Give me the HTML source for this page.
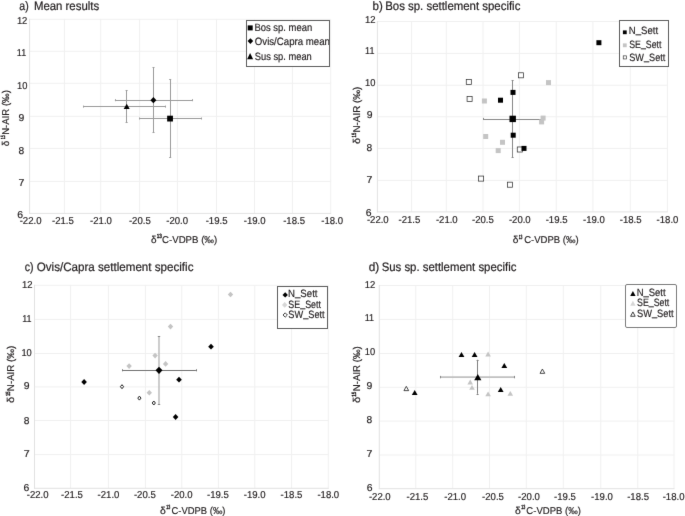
<!DOCTYPE html><html><head><meta charset="utf-8"><style>html,body{margin:0;padding:0;background:#fff;overflow:hidden;}svg{display:block;}text{font-family:"Liberation Sans", sans-serif;text-rendering:geometricPrecision;fill:#231f20;stroke:#231f20;stroke-width:0.18px;}.sup{stroke-width:0.45px;}.tk{stroke-width:0.18px;}.ti{stroke-width:0.22px;}</style></head><body>
<svg width="685" height="516" viewBox="0 0 685 516">
<defs><filter id="bl" x="0" y="0" width="1" height="1" color-interpolation-filters="sRGB"><feConvolveMatrix order="3" kernelMatrix="0.00524 0.06192 0.00524 0.06192 0.73137 0.06192 0.00524 0.06192 0.00524" edgeMode="duplicate"/></filter></defs>
<g filter="url(#bl)">
<rect width="685" height="516" fill="#fff"/>
<line x1="64.40" y1="19.30" x2="64.40" y2="213.40" stroke="#f0f0f0" stroke-width="1"/>
<line x1="100.70" y1="19.30" x2="100.70" y2="213.40" stroke="#f0f0f0" stroke-width="1"/>
<line x1="139.60" y1="19.30" x2="139.60" y2="213.40" stroke="#f0f0f0" stroke-width="1"/>
<line x1="177.40" y1="19.30" x2="177.40" y2="213.40" stroke="#f0f0f0" stroke-width="1"/>
<line x1="216.50" y1="19.30" x2="216.50" y2="213.40" stroke="#f0f0f0" stroke-width="1"/>
<line x1="254.50" y1="19.30" x2="254.50" y2="213.40" stroke="#f0f0f0" stroke-width="1"/>
<line x1="292.40" y1="19.30" x2="292.40" y2="213.40" stroke="#f0f0f0" stroke-width="1"/>
<line x1="330.70" y1="19.30" x2="330.70" y2="213.40" stroke="#f0f0f0" stroke-width="1"/>
<line x1="29.60" y1="19.30" x2="330.70" y2="19.30" stroke="#f0f0f0" stroke-width="1"/>
<line x1="29.60" y1="51.30" x2="330.70" y2="51.30" stroke="#f0f0f0" stroke-width="1"/>
<line x1="29.60" y1="83.30" x2="330.70" y2="83.30" stroke="#f0f0f0" stroke-width="1"/>
<line x1="29.60" y1="116.35" x2="330.70" y2="116.35" stroke="#f0f0f0" stroke-width="1"/>
<line x1="29.60" y1="148.40" x2="330.70" y2="148.40" stroke="#f0f0f0" stroke-width="1"/>
<line x1="29.60" y1="181.40" x2="330.70" y2="181.40" stroke="#f0f0f0" stroke-width="1"/>
<line x1="29.60" y1="18.80" x2="29.60" y2="213.90" stroke="#e2e2e2" stroke-width="1"/>
<line x1="29.10" y1="213.40" x2="331.20" y2="213.40" stroke="#e2e2e2" stroke-width="1"/>
<text x="16.88" y="23.95" font-size="10.0" textLength="10.49" lengthAdjust="spacingAndGlyphs" class="tk">12</text>
<text x="16.82" y="56.05" font-size="10.0" textLength="9.32" lengthAdjust="spacingAndGlyphs" class="tk">11</text>
<text x="16.99" y="88.50" font-size="10.0" textLength="10.38" lengthAdjust="spacingAndGlyphs" class="tk">10</text>
<text x="18.61" y="120.90" font-size="10.0" textLength="5.78" lengthAdjust="spacingAndGlyphs" class="tk">9</text>
<text x="18.56" y="153.50" font-size="10.0" textLength="5.68" lengthAdjust="spacingAndGlyphs" class="tk">8</text>
<text x="18.61" y="186.00" font-size="10.0" textLength="5.87" lengthAdjust="spacingAndGlyphs" class="tk">7</text>
<text x="17.32" y="217.60" font-size="10.0" textLength="5.79" lengthAdjust="spacingAndGlyphs" class="tk">6</text>
<text x="19.68" y="223.50" font-size="10.0" textLength="21.80" lengthAdjust="spacingAndGlyphs" class="tk">-22.0</text>
<text x="51.98" y="223.50" font-size="10.0" textLength="21.83" lengthAdjust="spacingAndGlyphs" class="tk">-21.5</text>
<text x="90.08" y="223.50" font-size="10.0" textLength="21.80" lengthAdjust="spacingAndGlyphs" class="tk">-21.0</text>
<text x="128.88" y="223.50" font-size="10.0" textLength="21.83" lengthAdjust="spacingAndGlyphs" class="tk">-20.5</text>
<text x="166.28" y="223.50" font-size="10.0" textLength="21.80" lengthAdjust="spacingAndGlyphs" class="tk">-20.0</text>
<text x="205.68" y="223.50" font-size="10.0" textLength="21.83" lengthAdjust="spacingAndGlyphs" class="tk">-19.5</text>
<text x="243.78" y="223.50" font-size="10.0" textLength="21.80" lengthAdjust="spacingAndGlyphs" class="tk">-19.0</text>
<text x="283.18" y="223.50" font-size="10.0" textLength="21.83" lengthAdjust="spacingAndGlyphs" class="tk">-18.5</text>
<text x="321.28" y="223.50" font-size="10.0" textLength="21.80" lengthAdjust="spacingAndGlyphs" class="tk">-18.0</text>
<text x="19.31" y="9.60" font-size="12.2" textLength="9.40" lengthAdjust="spacingAndGlyphs" class="ti">a)</text>
<text x="33.92" y="9.60" font-size="12.2" textLength="65.24" lengthAdjust="spacingAndGlyphs" class="ti">Mean results</text>
<text x="151.03" y="242.80" font-size="9.9" textLength="5.54" lengthAdjust="spacingAndGlyphs">&#948;</text>
<text x="156.75" y="238.40" font-size="6.0" textLength="5.16" lengthAdjust="spacingAndGlyphs" class="sup">13</text>
<text x="162.06" y="242.80" font-size="9.9" textLength="55.19" lengthAdjust="spacingAndGlyphs">C-VDPB (&#8240;)</text>
<g transform="rotate(-90)">
<text x="-146.17" y="9.30" font-size="9.9" textLength="5.54" lengthAdjust="spacingAndGlyphs">&#948;</text>
<text x="-139.18" y="5.10" font-size="6.0" textLength="4.03" lengthAdjust="spacingAndGlyphs" class="sup">15</text>
<text x="-134.84" y="9.30" font-size="9.9" textLength="44.68" lengthAdjust="spacingAndGlyphs">N-AIR (&#8240;)</text>
</g>
<line x1="411.60" y1="21.46" x2="411.60" y2="211.90" stroke="#f0f0f0" stroke-width="1"/>
<line x1="446.30" y1="21.46" x2="446.30" y2="211.90" stroke="#f0f0f0" stroke-width="1"/>
<line x1="483.00" y1="21.46" x2="483.00" y2="211.90" stroke="#f0f0f0" stroke-width="1"/>
<line x1="519.40" y1="21.46" x2="519.40" y2="211.90" stroke="#f0f0f0" stroke-width="1"/>
<line x1="556.20" y1="21.46" x2="556.20" y2="211.90" stroke="#f0f0f0" stroke-width="1"/>
<line x1="592.90" y1="21.46" x2="592.90" y2="211.90" stroke="#f0f0f0" stroke-width="1"/>
<line x1="630.30" y1="21.46" x2="630.30" y2="211.90" stroke="#f0f0f0" stroke-width="1"/>
<line x1="667.40" y1="21.46" x2="667.40" y2="211.90" stroke="#f0f0f0" stroke-width="1"/>
<line x1="377.40" y1="21.46" x2="667.40" y2="21.46" stroke="#f0f0f0" stroke-width="1"/>
<line x1="377.40" y1="53.40" x2="667.40" y2="53.40" stroke="#f0f0f0" stroke-width="1"/>
<line x1="377.40" y1="85.20" x2="667.40" y2="85.20" stroke="#f0f0f0" stroke-width="1"/>
<line x1="377.40" y1="116.80" x2="667.40" y2="116.80" stroke="#f0f0f0" stroke-width="1"/>
<line x1="377.40" y1="148.40" x2="667.40" y2="148.40" stroke="#f0f0f0" stroke-width="1"/>
<line x1="377.40" y1="180.40" x2="667.40" y2="180.40" stroke="#f0f0f0" stroke-width="1"/>
<line x1="377.40" y1="20.96" x2="377.40" y2="212.40" stroke="#e2e2e2" stroke-width="1"/>
<line x1="376.90" y1="211.90" x2="667.90" y2="211.90" stroke="#e2e2e2" stroke-width="1"/>
<text x="365.08" y="23.00" font-size="10.0" textLength="10.49" lengthAdjust="spacingAndGlyphs" class="tk">12</text>
<text x="365.12" y="54.30" font-size="10.0" textLength="9.32" lengthAdjust="spacingAndGlyphs" class="tk">11</text>
<text x="365.09" y="86.35" font-size="10.0" textLength="10.38" lengthAdjust="spacingAndGlyphs" class="tk">10</text>
<text x="366.86" y="118.30" font-size="10.0" textLength="5.78" lengthAdjust="spacingAndGlyphs" class="tk">9</text>
<text x="366.56" y="150.50" font-size="10.0" textLength="5.68" lengthAdjust="spacingAndGlyphs" class="tk">8</text>
<text x="366.46" y="182.60" font-size="10.0" textLength="5.87" lengthAdjust="spacingAndGlyphs" class="tk">7</text>
<text x="365.87" y="215.70" font-size="10.0" textLength="5.79" lengthAdjust="spacingAndGlyphs" class="tk">6</text>
<text x="366.88" y="222.50" font-size="10.0" textLength="21.80" lengthAdjust="spacingAndGlyphs" class="tk">-22.0</text>
<text x="398.48" y="222.50" font-size="10.0" textLength="21.83" lengthAdjust="spacingAndGlyphs" class="tk">-21.5</text>
<text x="435.88" y="222.50" font-size="10.0" textLength="21.80" lengthAdjust="spacingAndGlyphs" class="tk">-21.0</text>
<text x="471.98" y="222.50" font-size="10.0" textLength="21.83" lengthAdjust="spacingAndGlyphs" class="tk">-20.5</text>
<text x="508.88" y="222.50" font-size="10.0" textLength="21.80" lengthAdjust="spacingAndGlyphs" class="tk">-20.0</text>
<text x="545.68" y="222.50" font-size="10.0" textLength="21.83" lengthAdjust="spacingAndGlyphs" class="tk">-19.5</text>
<text x="582.98" y="222.50" font-size="10.0" textLength="21.80" lengthAdjust="spacingAndGlyphs" class="tk">-19.0</text>
<text x="619.78" y="222.50" font-size="10.0" textLength="21.83" lengthAdjust="spacingAndGlyphs" class="tk">-18.5</text>
<text x="656.58" y="222.50" font-size="10.0" textLength="21.80" lengthAdjust="spacingAndGlyphs" class="tk">-18.0</text>
<text x="372.50" y="9.60" font-size="12.2" textLength="10.27" lengthAdjust="spacingAndGlyphs" class="ti">b)</text>
<text x="385.21" y="9.60" font-size="12.2" textLength="135.14" lengthAdjust="spacingAndGlyphs" class="ti">Bos sp. settlement specific</text>
<text x="512.72" y="243.00" font-size="9.9" textLength="5.66" lengthAdjust="spacingAndGlyphs">&#948;</text>
<text x="518.75" y="238.60" font-size="6.0" textLength="3.70" lengthAdjust="spacingAndGlyphs" class="sup">13</text>
<text x="524.16" y="243.00" font-size="9.9" textLength="54.48" lengthAdjust="spacingAndGlyphs">C-VDPB (&#8240;)</text>
<g transform="rotate(-90)">
<text x="-144.10" y="360.20" font-size="9.9" textLength="6.01" lengthAdjust="spacingAndGlyphs">&#948;</text>
<text x="-137.41" y="356.00" font-size="6.0" textLength="4.59" lengthAdjust="spacingAndGlyphs" class="sup">15</text>
<text x="-132.56" y="360.20" font-size="9.9" textLength="45.92" lengthAdjust="spacingAndGlyphs">N-AIR (&#8240;)</text>
</g>
<line x1="70.60" y1="285.30" x2="70.60" y2="488.30" stroke="#f0f0f0" stroke-width="1"/>
<line x1="108.40" y1="285.30" x2="108.40" y2="488.30" stroke="#f0f0f0" stroke-width="1"/>
<line x1="145.40" y1="285.30" x2="145.40" y2="488.30" stroke="#f0f0f0" stroke-width="1"/>
<line x1="181.80" y1="285.30" x2="181.80" y2="488.30" stroke="#f0f0f0" stroke-width="1"/>
<line x1="218.40" y1="285.30" x2="218.40" y2="488.30" stroke="#f0f0f0" stroke-width="1"/>
<line x1="254.80" y1="285.30" x2="254.80" y2="488.30" stroke="#f0f0f0" stroke-width="1"/>
<line x1="291.60" y1="285.30" x2="291.60" y2="488.30" stroke="#f0f0f0" stroke-width="1"/>
<line x1="328.30" y1="285.30" x2="328.30" y2="488.30" stroke="#f0f0f0" stroke-width="1"/>
<line x1="34.50" y1="285.30" x2="328.30" y2="285.30" stroke="#f0f0f0" stroke-width="1"/>
<line x1="34.50" y1="319.40" x2="328.30" y2="319.40" stroke="#f0f0f0" stroke-width="1"/>
<line x1="34.50" y1="353.50" x2="328.30" y2="353.50" stroke="#f0f0f0" stroke-width="1"/>
<line x1="34.50" y1="386.90" x2="328.30" y2="386.90" stroke="#f0f0f0" stroke-width="1"/>
<line x1="34.50" y1="420.50" x2="328.30" y2="420.50" stroke="#f0f0f0" stroke-width="1"/>
<line x1="34.50" y1="454.60" x2="328.30" y2="454.60" stroke="#f0f0f0" stroke-width="1"/>
<line x1="34.50" y1="284.80" x2="34.50" y2="488.80" stroke="#e2e2e2" stroke-width="1"/>
<line x1="34.00" y1="488.30" x2="328.80" y2="488.30" stroke="#e2e2e2" stroke-width="1"/>
<text x="22.03" y="288.10" font-size="10.0" textLength="10.49" lengthAdjust="spacingAndGlyphs" class="tk">12</text>
<text x="22.22" y="322.00" font-size="10.0" textLength="9.32" lengthAdjust="spacingAndGlyphs" class="tk">11</text>
<text x="21.39" y="356.10" font-size="10.0" textLength="10.38" lengthAdjust="spacingAndGlyphs" class="tk">10</text>
<text x="23.81" y="389.25" font-size="10.0" textLength="5.78" lengthAdjust="spacingAndGlyphs" class="tk">9</text>
<text x="23.86" y="423.60" font-size="10.0" textLength="5.68" lengthAdjust="spacingAndGlyphs" class="tk">8</text>
<text x="23.76" y="456.95" font-size="10.0" textLength="5.87" lengthAdjust="spacingAndGlyphs" class="tk">7</text>
<text x="23.42" y="491.10" font-size="10.0" textLength="5.79" lengthAdjust="spacingAndGlyphs" class="tk">6</text>
<text x="26.78" y="497.70" font-size="10.0" textLength="21.80" lengthAdjust="spacingAndGlyphs" class="tk">-22.0</text>
<text x="61.08" y="497.70" font-size="10.0" textLength="21.83" lengthAdjust="spacingAndGlyphs" class="tk">-21.5</text>
<text x="97.58" y="497.70" font-size="10.0" textLength="21.80" lengthAdjust="spacingAndGlyphs" class="tk">-21.0</text>
<text x="133.88" y="497.70" font-size="10.0" textLength="21.83" lengthAdjust="spacingAndGlyphs" class="tk">-20.5</text>
<text x="170.78" y="497.70" font-size="10.0" textLength="21.80" lengthAdjust="spacingAndGlyphs" class="tk">-20.0</text>
<text x="206.98" y="497.70" font-size="10.0" textLength="21.83" lengthAdjust="spacingAndGlyphs" class="tk">-19.5</text>
<text x="243.78" y="497.70" font-size="10.0" textLength="21.80" lengthAdjust="spacingAndGlyphs" class="tk">-19.0</text>
<text x="280.58" y="497.70" font-size="10.0" textLength="21.83" lengthAdjust="spacingAndGlyphs" class="tk">-18.5</text>
<text x="317.38" y="497.70" font-size="10.0" textLength="21.80" lengthAdjust="spacingAndGlyphs" class="tk">-18.0</text>
<text x="24.81" y="271.30" font-size="12.2" textLength="8.80" lengthAdjust="spacingAndGlyphs" class="ti">c)</text>
<text x="36.80" y="271.30" font-size="12.2" textLength="156.65" lengthAdjust="spacingAndGlyphs" class="ti">Ovis/Capra settlement specific</text>
<text x="159.91" y="513.80" font-size="9.9" textLength="5.78" lengthAdjust="spacingAndGlyphs">&#948;</text>
<text x="166.22" y="509.40" font-size="6.0" textLength="4.04" lengthAdjust="spacingAndGlyphs" class="sup">13</text>
<text x="171.57" y="513.80" font-size="9.9" textLength="53.87" lengthAdjust="spacingAndGlyphs">C-VDPB (&#8240;)</text>
<g transform="rotate(-90)">
<text x="-403.12" y="13.90" font-size="9.9" textLength="6.25" lengthAdjust="spacingAndGlyphs">&#948;</text>
<text x="-396.01" y="9.70" font-size="6.0" textLength="4.48" lengthAdjust="spacingAndGlyphs" class="sup">15</text>
<text x="-391.15" y="13.90" font-size="9.9" textLength="45.40" lengthAdjust="spacingAndGlyphs">N-AIR (&#8240;)</text>
</g>
<line x1="415.80" y1="285.50" x2="415.80" y2="488.70" stroke="#f0f0f0" stroke-width="1"/>
<line x1="452.70" y1="285.50" x2="452.70" y2="488.70" stroke="#f0f0f0" stroke-width="1"/>
<line x1="489.50" y1="285.50" x2="489.50" y2="488.70" stroke="#f0f0f0" stroke-width="1"/>
<line x1="526.30" y1="285.50" x2="526.30" y2="488.70" stroke="#f0f0f0" stroke-width="1"/>
<line x1="563.30" y1="285.50" x2="563.30" y2="488.70" stroke="#f0f0f0" stroke-width="1"/>
<line x1="600.80" y1="285.50" x2="600.80" y2="488.70" stroke="#f0f0f0" stroke-width="1"/>
<line x1="637.80" y1="285.50" x2="637.80" y2="488.70" stroke="#f0f0f0" stroke-width="1"/>
<line x1="674.00" y1="285.50" x2="674.00" y2="488.70" stroke="#f0f0f0" stroke-width="1"/>
<line x1="379.30" y1="285.50" x2="674.00" y2="285.50" stroke="#f0f0f0" stroke-width="1"/>
<line x1="379.30" y1="319.40" x2="674.00" y2="319.40" stroke="#f0f0f0" stroke-width="1"/>
<line x1="379.30" y1="353.50" x2="674.00" y2="353.50" stroke="#f0f0f0" stroke-width="1"/>
<line x1="379.30" y1="387.30" x2="674.00" y2="387.30" stroke="#f0f0f0" stroke-width="1"/>
<line x1="379.30" y1="421.10" x2="674.00" y2="421.10" stroke="#f0f0f0" stroke-width="1"/>
<line x1="379.30" y1="455.00" x2="674.00" y2="455.00" stroke="#f0f0f0" stroke-width="1"/>
<line x1="379.30" y1="285.00" x2="379.30" y2="489.20" stroke="#e2e2e2" stroke-width="1"/>
<line x1="378.80" y1="488.70" x2="674.50" y2="488.70" stroke="#e2e2e2" stroke-width="1"/>
<text x="364.73" y="288.20" font-size="10.0" textLength="10.49" lengthAdjust="spacingAndGlyphs" class="tk">12</text>
<text x="364.67" y="320.85" font-size="10.0" textLength="9.32" lengthAdjust="spacingAndGlyphs" class="tk">11</text>
<text x="364.84" y="354.90" font-size="10.0" textLength="10.38" lengthAdjust="spacingAndGlyphs" class="tk">10</text>
<text x="366.46" y="389.15" font-size="10.0" textLength="5.78" lengthAdjust="spacingAndGlyphs" class="tk">9</text>
<text x="366.56" y="422.75" font-size="10.0" textLength="5.68" lengthAdjust="spacingAndGlyphs" class="tk">8</text>
<text x="366.51" y="456.55" font-size="10.0" textLength="5.87" lengthAdjust="spacingAndGlyphs" class="tk">7</text>
<text x="366.72" y="491.30" font-size="10.0" textLength="5.79" lengthAdjust="spacingAndGlyphs" class="tk">6</text>
<text x="368.88" y="499.90" font-size="10.0" textLength="21.80" lengthAdjust="spacingAndGlyphs" class="tk">-22.0</text>
<text x="406.48" y="499.90" font-size="10.0" textLength="21.83" lengthAdjust="spacingAndGlyphs" class="tk">-21.5</text>
<text x="444.28" y="499.90" font-size="10.0" textLength="21.80" lengthAdjust="spacingAndGlyphs" class="tk">-21.0</text>
<text x="482.08" y="499.90" font-size="10.0" textLength="21.83" lengthAdjust="spacingAndGlyphs" class="tk">-20.5</text>
<text x="518.08" y="499.90" font-size="10.0" textLength="21.80" lengthAdjust="spacingAndGlyphs" class="tk">-20.0</text>
<text x="554.08" y="499.90" font-size="10.0" textLength="21.83" lengthAdjust="spacingAndGlyphs" class="tk">-19.5</text>
<text x="591.08" y="499.90" font-size="10.0" textLength="21.80" lengthAdjust="spacingAndGlyphs" class="tk">-19.0</text>
<text x="627.18" y="499.90" font-size="10.0" textLength="21.83" lengthAdjust="spacingAndGlyphs" class="tk">-18.5</text>
<text x="662.68" y="499.90" font-size="10.0" textLength="21.80" lengthAdjust="spacingAndGlyphs" class="tk">-18.0</text>
<text x="368.75" y="271.30" font-size="12.2" textLength="10.53" lengthAdjust="spacingAndGlyphs" class="ti">d)</text>
<text x="381.63" y="271.30" font-size="12.2" textLength="134.72" lengthAdjust="spacingAndGlyphs" class="ti">Sus sp. settlement specific</text>
<text x="514.91" y="513.80" font-size="9.9" textLength="5.78" lengthAdjust="spacingAndGlyphs">&#948;</text>
<text x="521.22" y="509.40" font-size="6.0" textLength="4.04" lengthAdjust="spacingAndGlyphs" class="sup">13</text>
<text x="526.36" y="513.80" font-size="9.9" textLength="54.48" lengthAdjust="spacingAndGlyphs">C-VDPB (&#8240;)</text>
<g transform="rotate(-90)">
<text x="-403.12" y="360.20" font-size="9.9" textLength="6.25" lengthAdjust="spacingAndGlyphs">&#948;</text>
<text x="-396.74" y="356.00" font-size="6.0" textLength="4.92" lengthAdjust="spacingAndGlyphs" class="sup">15</text>
<text x="-391.14" y="360.20" font-size="9.9" textLength="44.89" lengthAdjust="spacingAndGlyphs">N-AIR (&#8240;)</text>
</g>
<line x1="126.50" y1="90.20" x2="126.50" y2="122.50" stroke="#9a9a9a" stroke-width="1"/>
<line x1="125.60" y1="90.50" x2="127.60" y2="90.50" stroke="#9a9a9a" stroke-width="1"/>
<line x1="125.60" y1="122.50" x2="127.60" y2="122.50" stroke="#9a9a9a" stroke-width="1"/>
<line x1="83.20" y1="106.50" x2="165.30" y2="106.50" stroke="#9a9a9a" stroke-width="1"/>
<line x1="83.50" y1="105.60" x2="83.50" y2="107.60" stroke="#9a9a9a" stroke-width="1"/>
<line x1="165.50" y1="105.60" x2="165.50" y2="107.60" stroke="#9a9a9a" stroke-width="1"/>
<line x1="153.50" y1="67.60" x2="153.50" y2="132.30" stroke="#9a9a9a" stroke-width="1"/>
<line x1="152.50" y1="67.50" x2="154.50" y2="67.50" stroke="#9a9a9a" stroke-width="1"/>
<line x1="152.50" y1="132.50" x2="154.50" y2="132.50" stroke="#9a9a9a" stroke-width="1"/>
<line x1="114.90" y1="100.50" x2="192.50" y2="100.50" stroke="#9a9a9a" stroke-width="1"/>
<line x1="115.50" y1="99.20" x2="115.50" y2="101.20" stroke="#9a9a9a" stroke-width="1"/>
<line x1="192.50" y1="99.20" x2="192.50" y2="101.20" stroke="#9a9a9a" stroke-width="1"/>
<line x1="170.50" y1="79.40" x2="170.50" y2="157.50" stroke="#9a9a9a" stroke-width="1"/>
<line x1="169.20" y1="79.50" x2="171.20" y2="79.50" stroke="#9a9a9a" stroke-width="1"/>
<line x1="169.20" y1="157.50" x2="171.20" y2="157.50" stroke="#9a9a9a" stroke-width="1"/>
<line x1="139.40" y1="118.50" x2="201.30" y2="118.50" stroke="#9a9a9a" stroke-width="1"/>
<line x1="139.50" y1="117.50" x2="139.50" y2="119.50" stroke="#9a9a9a" stroke-width="1"/>
<line x1="201.50" y1="117.50" x2="201.50" y2="119.50" stroke="#9a9a9a" stroke-width="1"/>
<polygon points="126.70,103.80 129.70,109.00 123.70,109.00" fill="#000"/>
<polygon points="153.40,97.10 156.40,100.20 153.40,103.30 150.40,100.20" fill="#000"/>
<rect x="167.15" y="115.70" width="5.80" height="5.80" fill="#000"/>
<rect x="246.5" y="20.5" width="83" height="46" fill="#fff" stroke="#5e5e5e" stroke-width="1"/>
<clipPath id="cA"><rect x="247" y="21" width="82" height="45"/></clipPath>
<g clip-path="url(#cA)">
<rect x="247.70" y="25.40" width="5.00" height="5.00" fill="#000"/>
<polygon points="250.40,38.30 253.20,41.10 250.40,43.90 247.60,41.10" fill="#000"/>
<polygon points="250.10,52.90 253.10,59.30 247.10,59.30" fill="#000"/>
<text x="254.48" y="30.70" font-size="10.6" textLength="57.69" lengthAdjust="spacingAndGlyphs">Bos sp. mean</text>
<text x="254.80" y="45.20" font-size="10.6" textLength="75.18" lengthAdjust="spacingAndGlyphs">Ovis/Capra mean</text>
<text x="254.82" y="59.50" font-size="10.6" textLength="56.94" lengthAdjust="spacingAndGlyphs">Sus sp. mean</text>
</g>
<line x1="512.50" y1="80.60" x2="512.50" y2="157.20" stroke="#888" stroke-width="1"/>
<line x1="511.60" y1="80.50" x2="513.60" y2="80.50" stroke="#888" stroke-width="1"/>
<line x1="511.60" y1="157.50" x2="513.60" y2="157.50" stroke="#888" stroke-width="1"/>
<line x1="483.00" y1="119.50" x2="541.50" y2="119.50" stroke="#888" stroke-width="1"/>
<line x1="483.50" y1="117.90" x2="483.50" y2="119.90" stroke="#888" stroke-width="1"/>
<line x1="541.50" y1="117.90" x2="541.50" y2="119.90" stroke="#888" stroke-width="1"/>
<rect x="481.90" y="98.50" width="5.00" height="5.00" fill="#c4c4c4"/>
<rect x="546.00" y="80.10" width="5.00" height="5.00" fill="#c4c4c4"/>
<rect x="540.60" y="115.60" width="5.00" height="5.00" fill="#c4c4c4"/>
<rect x="539.10" y="119.40" width="5.00" height="5.00" fill="#c4c4c4"/>
<rect x="483.20" y="134.00" width="5.00" height="5.00" fill="#c4c4c4"/>
<rect x="500.00" y="139.80" width="5.00" height="5.00" fill="#c4c4c4"/>
<rect x="495.70" y="148.10" width="5.00" height="5.00" fill="#c4c4c4"/>
<rect x="466.28" y="79.38" width="5.05" height="5.05" fill="#fff" stroke="#333" stroke-width="0.75"/>
<rect x="467.08" y="96.47" width="5.05" height="5.05" fill="#fff" stroke="#333" stroke-width="0.75"/>
<rect x="518.38" y="72.77" width="5.05" height="5.05" fill="#fff" stroke="#333" stroke-width="0.75"/>
<rect x="517.27" y="146.97" width="5.05" height="5.05" fill="#fff" stroke="#333" stroke-width="0.75"/>
<rect x="478.58" y="176.07" width="5.05" height="5.05" fill="#fff" stroke="#333" stroke-width="0.75"/>
<rect x="507.38" y="182.17" width="5.05" height="5.05" fill="#fff" stroke="#333" stroke-width="0.75"/>
<rect x="596.40" y="40.20" width="5.00" height="5.00" fill="#000"/>
<rect x="498.00" y="97.70" width="5.00" height="5.00" fill="#000"/>
<rect x="510.50" y="89.90" width="5.00" height="5.00" fill="#000"/>
<rect x="510.70" y="132.70" width="5.00" height="5.00" fill="#000"/>
<rect x="521.50" y="145.90" width="5.00" height="5.00" fill="#000"/>
<rect x="509.50" y="115.70" width="6.40" height="6.40" fill="#000"/>
<rect x="619.5" y="20.5" width="49" height="46" fill="#fff" stroke="#5e5e5e" stroke-width="1"/>
<rect x="622.90" y="30.40" width="3.80" height="3.80" fill="#000"/>
<rect x="622.90" y="43.40" width="3.80" height="3.80" fill="#c4c4c4"/>
<rect x="623.25" y="55.85" width="3.10" height="3.10" fill="#fff" stroke="#3a3a3a" stroke-width="0.7"/>
<text x="628.87" y="34.40" font-size="10.6" textLength="29.25" lengthAdjust="spacingAndGlyphs">N<tspan dy="-1.0">_</tspan><tspan dy="1.0">Sett</tspan></text>
<text x="629.25" y="47.60" font-size="10.6" textLength="32.16" lengthAdjust="spacingAndGlyphs">SE<tspan dy="-1.0">_</tspan><tspan dy="1.0">Sett</tspan></text>
<text x="629.23" y="60.70" font-size="10.6" textLength="36.08" lengthAdjust="spacingAndGlyphs">SW<tspan dy="-1.0">_</tspan><tspan dy="1.0">Sett</tspan></text>
<line x1="122.50" y1="370.50" x2="195.90" y2="370.50" stroke="#727272" stroke-width="1"/>
<line x1="122.50" y1="369.30" x2="122.50" y2="371.30" stroke="#727272" stroke-width="1"/>
<line x1="196.50" y1="369.30" x2="196.50" y2="371.30" stroke="#727272" stroke-width="1"/>
<line x1="159.00" y1="336.30" x2="159.00" y2="404.20" stroke="#c0c0c0" stroke-width="1.6"/>
<line x1="157.80" y1="336.50" x2="160.20" y2="336.50" stroke="#888" stroke-width="1"/>
<line x1="157.80" y1="404.50" x2="160.20" y2="404.50" stroke="#888" stroke-width="1"/>
<polygon points="129.10,363.30 131.80,366.10 129.10,368.90 126.40,366.10" fill="#c4c4c4"/>
<polygon points="155.10,352.80 157.80,355.60 155.10,358.40 152.40,355.60" fill="#c4c4c4"/>
<polygon points="165.60,361.10 168.30,363.90 165.60,366.70 162.90,363.90" fill="#c4c4c4"/>
<polygon points="149.30,389.90 152.00,392.70 149.30,395.50 146.60,392.70" fill="#c4c4c4"/>
<polygon points="170.50,323.80 173.20,326.60 170.50,329.40 167.80,326.60" fill="#c4c4c4"/>
<polygon points="230.50,291.70 233.20,294.50 230.50,297.30 227.80,294.50" fill="#c4c4c4"/>
<polygon points="122.00,384.70 123.60,386.70 122.00,388.70 120.40,386.70" fill="#fff" stroke="#1e1e1e" stroke-width="1.0"/>
<polygon points="139.40,396.10 141.00,398.10 139.40,400.10 137.80,398.10" fill="#fff" stroke="#1e1e1e" stroke-width="1.0"/>
<polygon points="153.80,401.00 155.40,403.00 153.80,405.00 152.20,403.00" fill="#fff" stroke="#1e1e1e" stroke-width="1.0"/>
<polygon points="84.10,379.10 86.90,382.00 84.10,384.90 81.30,382.00" fill="#000"/>
<polygon points="179.00,376.80 181.80,379.70 179.00,382.60 176.20,379.70" fill="#000"/>
<polygon points="211.00,343.80 213.80,346.70 211.00,349.60 208.20,346.70" fill="#000"/>
<polygon points="175.60,414.10 178.40,417.00 175.60,419.90 172.80,417.00" fill="#000"/>
<polygon points="159.00,366.70 162.50,370.30 159.00,373.90 155.50,370.30" fill="#000"/>
<rect x="277.5" y="286.5" width="50" height="42" fill="#fff" stroke="#5e5e5e" stroke-width="1"/>
<polygon points="285.20,292.20 287.90,294.90 285.20,297.60 282.50,294.90" fill="#000"/>
<polygon points="284.70,302.10 287.40,304.90 284.70,307.70 282.00,304.90" fill="#d6d6d6"/>
<polygon points="285.20,312.83 287.37,315.00 285.20,317.17 283.03,315.00" fill="#fff" stroke="#2a2a2a" stroke-width="0.9"/>
<text x="287.96" y="297.00" font-size="10.6" textLength="29.56" lengthAdjust="spacingAndGlyphs">N<tspan dy="-1.0">_</tspan><tspan dy="1.0">Sett</tspan></text>
<text x="288.34" y="307.90" font-size="10.6" textLength="32.67" lengthAdjust="spacingAndGlyphs">SE<tspan dy="-1.0">_</tspan><tspan dy="1.0">Sett</tspan></text>
<text x="288.33" y="318.10" font-size="10.6" textLength="36.29" lengthAdjust="spacingAndGlyphs">SW<tspan dy="-1.0">_</tspan><tspan dy="1.0">Sett</tspan></text>
<line x1="440.40" y1="377.10" x2="514.30" y2="377.10" stroke="#c0c0c0" stroke-width="1.6"/>
<line x1="440.50" y1="375.90" x2="440.50" y2="378.30" stroke="#888" stroke-width="1"/>
<line x1="514.50" y1="375.90" x2="514.50" y2="378.30" stroke="#888" stroke-width="1"/>
<line x1="477.50" y1="359.80" x2="477.50" y2="393.80" stroke="#808080" stroke-width="1"/>
<line x1="476.60" y1="360.50" x2="478.60" y2="360.50" stroke="#808080" stroke-width="1"/>
<line x1="476.60" y1="394.50" x2="478.60" y2="394.50" stroke="#808080" stroke-width="1"/>
<polygon points="488.10,351.60 490.90,356.40 485.30,356.40" fill="#c4c4c4"/>
<polygon points="470.20,379.60 473.00,384.40 467.40,384.40" fill="#c4c4c4"/>
<polygon points="472.00,384.90 474.80,389.70 469.20,389.70" fill="#c4c4c4"/>
<polygon points="488.10,391.40 490.90,396.20 485.30,396.20" fill="#c4c4c4"/>
<polygon points="510.30,391.00 513.10,395.80 507.50,395.80" fill="#c4c4c4"/>
<polygon points="406.30,386.36 408.66,390.64 403.94,390.64" fill="#fff" stroke="#1e1e1e" stroke-width="0.8" stroke-linejoin="miter"/>
<polygon points="542.40,369.06 544.76,373.34 540.04,373.34" fill="#fff" stroke="#1e1e1e" stroke-width="0.8" stroke-linejoin="miter"/>
<polygon points="414.70,390.10 417.60,395.10 411.80,395.10" fill="#000"/>
<polygon points="461.50,351.90 464.40,356.90 458.60,356.90" fill="#000"/>
<polygon points="474.60,351.90 477.50,356.90 471.70,356.90" fill="#000"/>
<polygon points="504.30,362.90 507.20,367.90 501.40,367.90" fill="#000"/>
<polygon points="500.70,387.10 503.60,392.10 497.80,392.10" fill="#000"/>
<polygon points="477.80,373.90 481.40,380.30 474.20,380.30" fill="#000"/>
<rect x="625.5" y="284.5" width="51" height="43" rx="1.5" fill="#fff" stroke="#7c7c7c" stroke-width="1"/>
<polygon points="632.90,291.00 635.60,296.00 630.20,296.00" fill="#000"/>
<polygon points="632.90,300.80 635.60,305.80 630.20,305.80" fill="#d6d6d6"/>
<polygon points="632.90,311.93 635.18,316.27 630.62,316.27" fill="#fff" stroke="#2a2a2a" stroke-width="0.9" stroke-linejoin="miter"/>
<text x="636.67" y="295.50" font-size="10.6" textLength="28.94" lengthAdjust="spacingAndGlyphs">N<tspan dy="-1.0">_</tspan><tspan dy="1.0">Sett</tspan></text>
<text x="637.05" y="306.10" font-size="10.6" textLength="32.27" lengthAdjust="spacingAndGlyphs">SE<tspan dy="-1.0">_</tspan><tspan dy="1.0">Sett</tspan></text>
<text x="637.02" y="316.80" font-size="10.6" textLength="36.59" lengthAdjust="spacingAndGlyphs">SW<tspan dy="-1.0">_</tspan><tspan dy="1.0">Sett</tspan></text>
</g></svg></body></html>
